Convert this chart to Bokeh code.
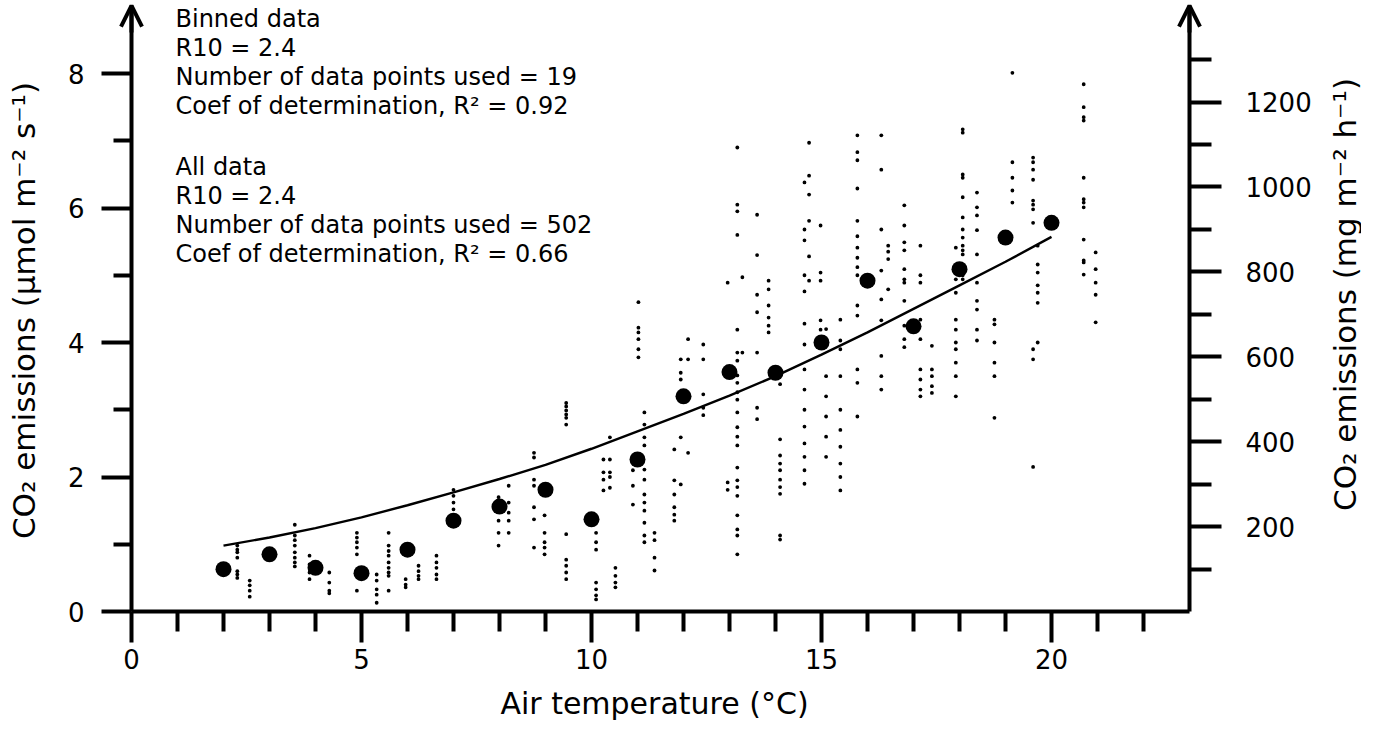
import math
from bokeh.plotting import figure
from bokeh.models import Range1d, LinearAxis, FixedTicker, Label, Arrow, OpenHead
from bokeh.embed import file_html
from bokeh.resources import INLINE

# ---------------- data ----------------
bin_temp = [2, 3, 4, 5, 6, 7, 8, 9, 10, 11, 12, 13, 14, 15, 16, 17, 18, 19, 20]
bin_flux = [0.63, 0.85, 0.65, 0.57, 0.92, 1.35, 1.56, 1.81, 1.37, 2.26, 3.2, 3.56, 3.55,
            4.0, 4.92, 4.24, 5.09, 5.56, 5.78]

fit_temp = [2, 3, 4, 5, 6, 7, 8, 9, 10, 11, 12, 13, 14, 15, 16, 17, 18, 19, 20]
fit_flux = [0.98, 1.1, 1.24, 1.4, 1.58, 1.77, 1.97, 2.18, 2.42, 2.68, 2.94, 3.21, 3.5,
            3.82, 4.15, 4.5, 4.85, 5.2, 5.57]

obs_col_temp = [2.3, 2.57, 3.55, 3.87, 4.3, 4.9, 5.33, 5.59, 5.96, 6.24, 6.63, 7.0, 7.98, 8.2,
                8.75, 8.98, 9.45, 10.1, 10.26, 10.4, 10.52, 10.9, 11.02, 11.15, 11.37, 11.8,
                11.94, 12.1, 12.43, 12.96, 13.17, 13.28, 13.6, 13.85, 14.1, 14.63, 14.73,
                14.98, 15.1, 15.41, 15.78, 16.3, 16.45, 16.8, 17.15, 17.4, 17.92, 18.07,
                18.38, 18.76, 19.15, 19.6, 19.7, 20.7, 20.96]
obs_col_flux = [
    [0.98, 0.92, 0.88, 0.8, 0.6, 0.55, 0.5],
    [0.46, 0.39, 0.31, 0.22],
    [1.29, 1.13, 1.06, 0.98, 0.88, 0.8, 0.73, 0.67],
    [0.83, 0.7, 0.58, 0.48],
    [0.58, 0.43, 0.31, 0.27],
    [1.17, 1.1, 1.03, 0.95, 0.85, 0.31],
    [0.55, 0.46, 0.33, 0.25, 0.13],
    [1.17, 0.98, 0.9, 0.83, 0.73, 0.65, 0.58, 0.53, 0.31],
    [0.48, 0.4, 0.36],
    [0.68, 0.6, 0.53, 0.48],
    [0.83, 0.73, 0.65, 0.55, 0.48],
    [1.81, 1.72, 1.62, 1.52],
    [1.7, 1.55, 1.35, 1.17, 0.98],
    [1.87, 1.62, 1.47, 1.35, 1.17],
    [2.36, 2.29, 1.96, 1.87, 1.55, 1.37, 0.95],
    [1.43, 1.17, 1.03, 0.95, 0.85],
    [3.1, 3.05, 2.99, 2.93, 2.88, 2.78, 1.15, 0.77, 0.68, 0.58, 0.48],
    [1.32, 1.17, 1.03, 0.92, 0.43, 0.33, 0.24, 0.18],
    [2.26, 2.07, 1.96, 1.8],
    [2.59, 2.26, 2.07, 2.0, 1.84],
    [0.65, 0.53, 0.43, 0.36],
    [2.1, 1.87, 1.59],
    [4.6, 4.22, 4.15, 4.05, 3.9, 3.78],
    [2.96, 2.78, 2.59, 2.47, 2.11, 1.96, 1.74, 1.62, 1.5, 1.32, 1.13, 1.03],
    [1.17, 1.06, 0.8, 0.61],
    [2.41, 1.95, 1.74, 1.55, 1.44, 1.35],
    [3.75, 3.55, 3.45, 2.59, 1.89],
    [4.05, 3.75, 2.36],
    [3.97, 3.75, 3.23, 3.03, 2.92],
    [4.89, 1.92, 1.81],
    [6.9, 6.05, 5.95, 5.6, 4.19, 3.85, 3.73, 3.51, 3.4, 3.26, 3.15, 2.96, 2.74, 2.6, 2.47,
     2.14, 1.95, 1.85, 1.72, 1.43, 1.22, 1.13, 0.85],
    [4.97, 3.85],
    [5.9, 5.3, 4.71, 4.45, 3.85, 3.03, 2.86],
    [4.92, 4.79, 4.55, 4.37, 4.25, 4.15],
    [3.38, 2.56, 2.32, 2.2, 2.1, 1.96, 1.85, 1.75, 1.13, 1.07],
    [6.38, 5.68, 5.52, 5.0, 4.76, 4.28, 3.97, 3.6, 3.3, 3.0, 2.75, 2.5, 2.3, 2.1, 1.9],
    [6.97, 6.48, 6.2, 5.81, 5.28, 4.92],
    [5.74, 5.04, 4.92, 4.33, 4.19],
    [4.2, 3.5, 3.2, 2.9, 2.6, 2.3],
    [4.34, 4.03, 3.9, 3.5, 3.0, 2.7, 2.45, 2.2, 2.0, 1.8],
    [7.08, 6.83, 6.71, 6.29, 5.81, 5.58, 5.41, 5.26, 5.12, 5.0, 4.55, 4.4, 3.6, 3.4, 2.9],
    [7.08, 6.57, 5.68, 5.07, 4.64, 4.33, 3.8, 3.5, 3.3],
    [5.44, 5.35, 5.24, 4.79],
    [6.04, 5.74, 5.49, 5.37, 5.09, 4.94, 4.89, 4.62, 4.25, 4.05, 3.93],
    [5.44, 5.0, 4.89, 4.34, 4.05, 3.6, 3.45, 3.3, 3.2],
    [3.95, 3.6, 3.5, 3.35, 3.25],
    [5.41, 4.94, 4.74, 4.34, 4.19, 4.0, 3.9, 3.7, 3.5, 3.2],
    [7.17, 7.12, 6.5, 6.45, 6.16, 5.86, 5.68, 5.56, 5.44, 5.37, 5.31, 5.0, 4.94],
    [6.23, 6.01, 5.89, 5.67, 5.31, 4.89, 4.62, 4.49, 4.19, 4.03],
    [4.34, 4.27, 4.0, 3.7, 3.5, 2.88],
    [8.01, 6.68, 6.45, 6.26, 6.08],
    [6.75, 6.68, 6.57, 6.42, 6.11, 6.05, 5.98, 5.78, 3.9, 3.75, 2.15],
    [5.44, 5.16, 5.04, 4.85, 4.74, 4.59, 4.0],
    [7.84, 7.5, 7.35, 7.3, 6.45, 6.13, 6.08, 6.01, 5.53, 5.22, 5.19, 5.01],
    [5.34, 5.09, 4.89, 4.71, 4.3],
]

x_ticks = [0, 5, 10, 15, 20]
x_minor = [1, 2, 3, 4, 6, 7, 8, 9, 11, 12, 13, 14, 16, 17, 18, 19, 21, 22]
y_ticks = [0, 2, 4, 6, 8]
y_minor = [1, 3, 5, 7]
mg_ticks = [200, 400, 600, 800, 1000, 1200]
mg_minor = [100, 300, 500, 700, 900, 1100, 1300]

notes_binned = ["Binned data", "R10 = 2.4", "Number of data points used = 19",
                "Coef of determination, R\u00b2 = 0.92"]
notes_all = ["All data", "R10 = 2.4", "Number of data points used = 502",
             "Coef of determination, R\u00b2 = 0.66"]

x_title = "Air temperature (\u00b0C)"
y_title = "CO\u2082 emissions (\u00b5mol m\u207b\u00b2 s\u207b\u00b9)"
y2_title = "CO\u2082 emissions (mg m\u207b\u00b2 h\u207b\u00b9)"

UMOL_TO_MG = 158.4  # umol CO2 m-2 s-1 -> mg CO2 m-2 h-1

obs_temp = [t for t, col in zip(obs_col_temp, obs_col_flux) for _ in col]
obs_flux = [v for col in obs_col_flux for v in col]

# ---------------- layout (page pixels -> data) ----------------
FONT = "DejaVu Sans"
W, H = 1361, 724
PXX = 46.0      # px per degree
PXY = 67.25     # px per flux unit
X0_PAGE = 139   # page x of 0 degC
Y0_PAGE = 619   # page y of zero flux
X_END = 23.0    # right axis position
Y_TOP = 9.01    # arrow tip

def dx(px):
    return (px - X0_PAGE) / PXX

def dy(py):
    return (Y0_PAGE - py) / PXY

p = figure(width=W, height=H,
           x_range=Range1d(dx(8), dx(8 + W)), y_range=Range1d(dy(8 + H), dy(8)),
           output_backend="svg", toolbar_location=None,
           min_border_left=0, min_border_right=0, min_border_top=0, min_border_bottom=0)
p.outline_line_color = None
p.xgrid.visible = False
p.ygrid.visible = False
p.background_fill_color = "white"
p.border_fill_color = "white"

p.extra_y_ranges = {"mg": Range1d(dy(8 + H) * UMOL_TO_MG, dy(8) * UMOL_TO_MG)}

def style_axis(ax, maj_out, min_out):
    ax.axis_line_width = 4
    ax.axis_line_color = "black"
    ax.major_tick_line_width = 4
    ax.minor_tick_line_width = 4
    ax.major_tick_line_color = "black"
    ax.minor_tick_line_color = "black"
    ax.major_tick_in = 0
    ax.minor_tick_in = 0
    ax.major_tick_out = maj_out
    ax.minor_tick_out = min_out
    ax.major_label_text_font = FONT
    ax.major_label_text_font_size = "26px"
    ax.major_label_text_color = "black"

xa = p.xaxis[0]
xa.ticker = FixedTicker(ticks=x_ticks, minor_ticks=x_minor)
style_axis(xa, 31, 20)
xa.major_label_standoff = 6
xa.fixed_location = 0
xa.bounds = (0, X_END)

ya = p.yaxis[0]
ya.ticker = FixedTicker(ticks=y_ticks, minor_ticks=y_minor)
style_axis(ya, 30, 18)
ya.major_label_standoff = 17
ya.fixed_location = 0
ya.bounds = (0, Y_TOP)

ra = LinearAxis(y_range_name="mg", ticker=FixedTicker(ticks=mg_ticks, minor_ticks=mg_minor))
style_axis(ra, 32, 22)
ra.major_label_standoff = 24
ra.fixed_location = X_END
ra.bounds = (0, Y_TOP * UMOL_TO_MG)
p.add_layout(ra, "right")

# arrow heads on the vertical axes
for xpos in (0, X_END):
    p.add_layout(Arrow(end=OpenHead(size=21, line_width=4, line_color="black"),
                       x_start=xpos, y_start=Y_TOP - 0.4, x_end=xpos, y_end=Y_TOP,
                       line_width=4, line_color="black"))

# ---------------- axis titles ----------------
p.add_layout(Label(x=dx(662), y=dy(711), text=x_title, text_font=FONT,
                   text_font_size="30px", text_align="center", text_baseline="middle",
                   text_color="black"))
p.add_layout(Label(x=dx(31), y=dy(318), text=y_title, text_font=FONT,
                   text_font_size="31px", text_align="center", text_baseline="middle",
                   angle=math.pi / 2, text_color="black"))
p.add_layout(Label(x=dx(1352), y=dy(302), text=y2_title, text_font=FONT,
                   text_font_size="31px", text_align="center", text_baseline="middle",
                   angle=math.pi / 2, text_color="black"))

# ---------------- marks ----------------
p.scatter(obs_temp, obs_flux, size=3.8, color="black", line_color=None)
p.line(fit_temp, fit_flux, line_width=2.4, color="black")
p.scatter(bin_temp, bin_flux, size=16, color="black", line_color=None)

# ---------------- notes ----------------
for i, t in enumerate(notes_binned):
    p.add_layout(Label(x=dx(183), y=dy(26 + i * 29), text=t, text_font=FONT,
                       text_font_size="24px", text_baseline="middle", text_color="black"))
for i, t in enumerate(notes_all):
    p.add_layout(Label(x=dx(183), y=dy(174 + i * 29), text=t, text_font=FONT,
                       text_font_size="24px", text_baseline="middle", text_color="black"))

open("out.html", "w").write(file_html(p, INLINE))
